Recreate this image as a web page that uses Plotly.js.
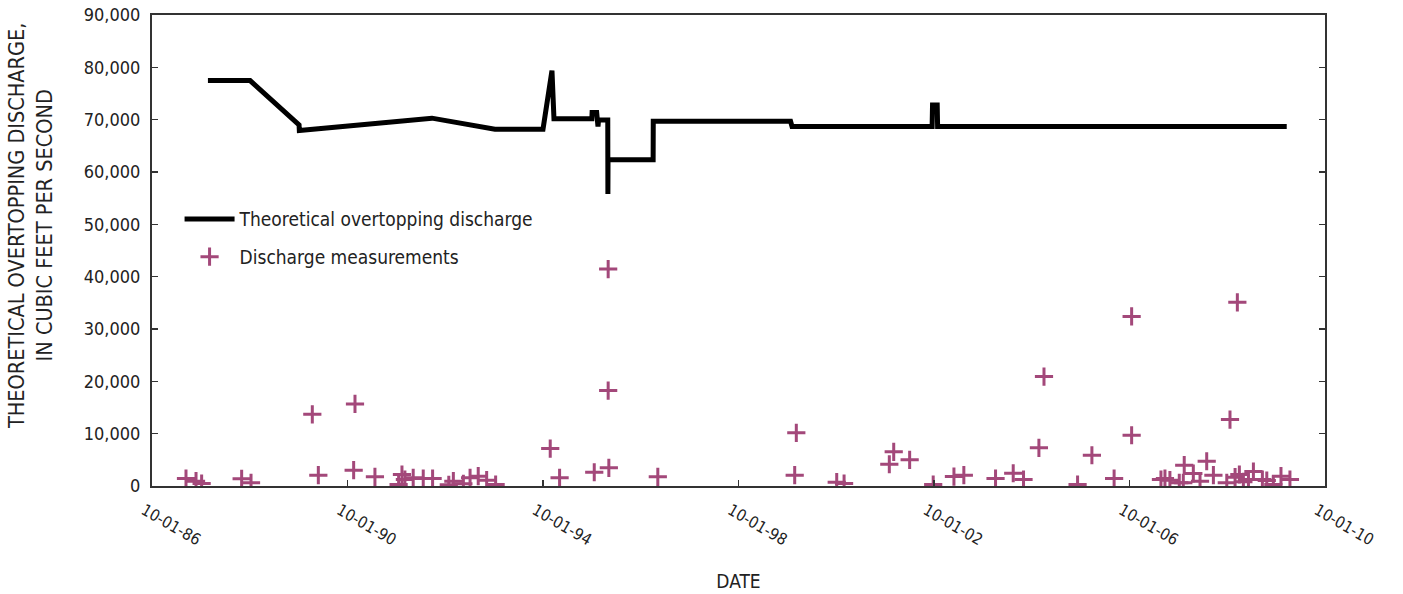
<!DOCTYPE html>
<html>
<head>
<meta charset="utf-8">
<script src="https://cdn.plot.ly/plotly-3.0.1.min.js"></script>
<style>
  html, body { margin: 0; padding: 0; background: #fff; }
  #chart { width: 1403px; height: 594px; }
</style>
</head>
<body>
<div id="chart"></div>
<script>
// Theoretical overtopping discharge (step/line series)
const lineDates = [
  '1987-11-23','1988-10-03','1989-10-04','1989-10-06','1992-06-23','1993-10-07',
  '1994-10-01','1994-12-07','1994-12-22','1995-10-01','1995-10-03','1995-11-06',
  '1995-11-16','1995-11-20','1996-01-28','1996-01-29','1996-01-30','1997-01-01',
  '1997-01-02','1999-10-25','1999-11-05','2002-09-17','2002-09-20','2002-10-25',
  '2002-10-28','2009-12-19'
];
const lineValues = [
  77470, 77470, 69010, 67920, 70290, 68190,
  68190, 79380, 70160, 70160, 71360, 71360,
  68690, 69920, 69920, 55810, 62330, 62330,
  69700, 69700, 68700, 68700, 72800, 72800,
  68700, 68700
];

// Discharge measurements (scatter)
const measDates = [
  '1987-06-12','1987-08-26','1987-10-07','1988-08-01','1988-10-10','1990-01-11',
  '1990-02-25','1990-11-26','1990-11-16','1991-04-24','1991-10-18','1991-11-12',
  '1991-12-04','1992-02-04','1992-04-19','1992-06-28','1992-10-27','1992-11-30',
  '1993-02-13','1993-04-04','1993-06-04','1993-08-06','1993-10-12','1994-11-24',
  '1995-02-02','1995-10-19','1996-01-31','1996-01-31','1996-02-05','1997-02-05',
  '1999-12-07','1999-11-25','2000-10-04','2000-11-28','2001-11-01','2001-12-04',
  '2002-04-02','2002-09-25','2003-02-27','2003-05-12','2004-01-04','2004-05-15',
  '2004-07-31','2004-11-23','2004-12-31','2005-09-08','2005-12-24','2006-06-08',
  '2006-10-17','2006-10-17','2007-05-24','2007-06-23','2007-07-30','2007-10-08',
  '2007-11-07','2007-11-14','2008-01-21','2008-03-11','2008-04-30','2008-06-19',
  '2008-09-27','2008-10-21','2008-11-28','2008-12-15','2008-12-30','2009-01-29',
  '2009-03-08','2009-04-14','2009-06-20','2009-07-23','2009-09-10','2009-11-06',
  '2010-01-12'
];
const measValues = [
  1430, 920, 480, 1370, 610, 13700,
  2060, 15690, 3020, 1760, 290, 2200,
  1240, 1570, 1430, 1430, 230, 920,
  420, 1570, 1870, 1110, 290, 7160,
  1570, 2630, 41460, 18230, 3470, 1760,
  10160, 2060, 730, 480, 4160, 6530,
  5000, 290, 1810, 2060, 1430, 2440,
  1240, 7290, 20900, 290, 5880, 1430,
  32410, 9700, 1240, 1430, 1110, 610,
  610, 3970, 2390, 920, 4730, 2060,
  610, 12690, 1680, 35090, 2200, 800,
  1240, 2770, 1240, 1050, 290, 1870,
  1240
];

// Axis ticks
const xTickVals = ['1986-10-01','1990-10-01','1994-10-01','1998-10-01','2002-10-01','2006-10-01','2010-10-01'];
const xTickText = ['10-01-86','10-01-90','10-01-94','10-01-98','10-01-02','10-01-06','10-01-10'];
const yTickVals = [0,10000,20000,30000,40000,50000,60000,70000,80000,90000];
const yTitleText = 'THEORETICAL OVERTOPPING DISCHARGE,<br>IN CUBIC FEET PER SECOND';

const FONT = '"DejaVu Sans Condensed", "Liberation Sans Narrow", "Arial Narrow", sans-serif';

const traces = [
  {
    x: lineDates, y: lineValues, type: 'scatter', mode: 'lines',
    name: 'Theoretical overtopping discharge', legendgroup: 'a',
    line: { color: '#000000', width: 5 }
  },
  {
    x: measDates, y: measValues, type: 'scatter', mode: 'markers',
    name: 'Discharge measurements', legendgroup: 'b',
    marker: { symbol: 'cross-thin', size: 13, color: '#a3487a', line: { color: '#a3487a', width: 3 } }
  }
];

const layout = {
  width: 1403, height: 594,
  margin: { l: 152, r: 78, t: 15, b: 108 },
  paper_bgcolor: '#ffffff', plot_bgcolor: '#ffffff',
  font: { family: FONT, size: 18, color: '#222222' },
  showlegend: true,
  legend: {
    x: 0.0235, y: 0.607, xanchor: 'left', yanchor: 'top',
    bgcolor: 'rgba(0,0,0,0)', borderwidth: 0,
    font: { family: FONT, size: 19, color: '#222222' },
    tracegroupgap: 10, traceorder: 'grouped', itemwidth: 50
  },
  xaxis: {
    type: 'date',
    range: ['1986-10-01', '2010-10-01'],
    tickmode: 'array', tickvals: xTickVals, ticktext: xTickText,
    tickangle: 30,
    ticks: 'inside', ticklen: 6, tickwidth: 1.5, tickcolor: '#333333',
    showline: true, linecolor: '#333333', linewidth: 2, mirror: true,
    showgrid: false, zeroline: false,
    tickfont: { family: FONT, size: 16, color: '#222222' },
    ticklabelstandoff: 7, ticklabelshift: -8,
    title: { text: 'DATE', font: { family: FONT, size: 19, color: '#222222' }, standoff: 26 }
  },
  yaxis: {
    range: [0, 90000],
    tickmode: 'array', tickvals: yTickVals, tickformat: ',d',
    ticks: 'inside', ticklen: 6, tickwidth: 1.5, tickcolor: '#333333',
    showline: true, linecolor: '#333333', linewidth: 2, mirror: 'ticks',
    showgrid: false, zeroline: false,
    tickfont: { family: FONT, size: 18, color: '#222222' },
    ticklabelstandoff: 6
  },
  annotations: [
    {
      text: yTitleText, xref: 'paper', yref: 'paper',
      x: -0.104, y: 0.552, xanchor: 'center', yanchor: 'middle',
      textangle: -90, showarrow: false, align: 'center',
      font: { family: FONT, size: 21.5, color: '#222222' }
    }
  ]
};

Plotly.newPlot('chart', traces, layout, { displayModeBar: false, staticPlot: true });
</script>
</body>
</html>
